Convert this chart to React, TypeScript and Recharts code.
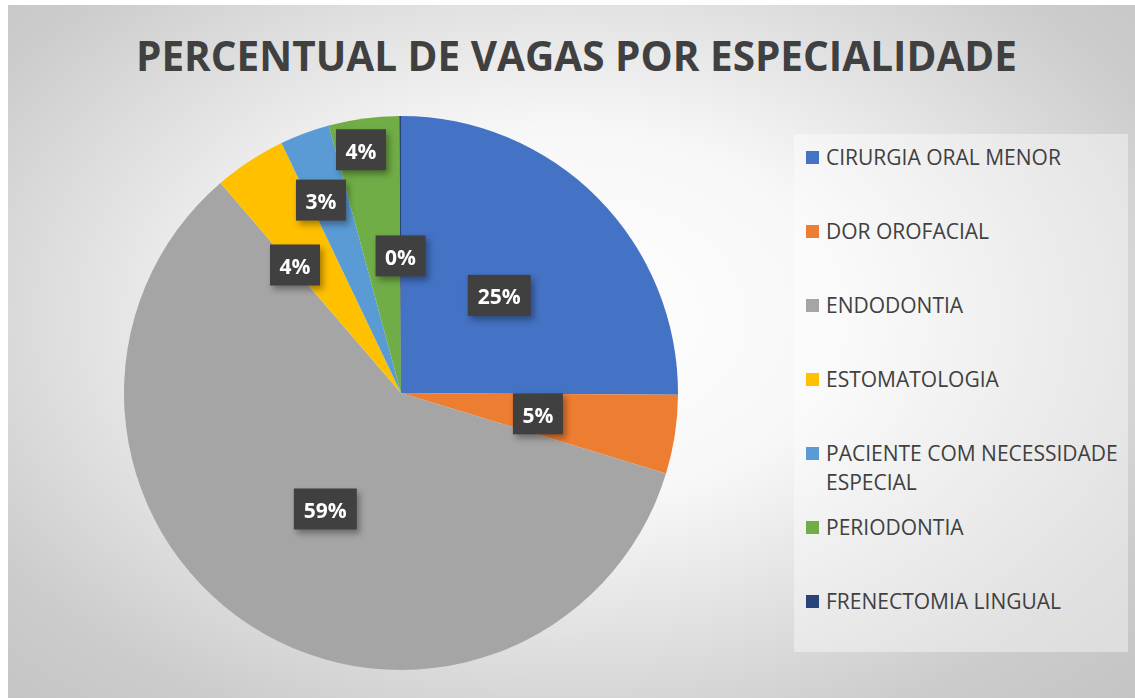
import { PieChart, Pie, Cell, Legend } from "recharts";

const categories = [
  "CIRURGIA ORAL MENOR",
  "DOR OROFACIAL",
  "ENDODONTIA",
  "ESTOMATOLOGIA",
  "PACIENTE COM NECESSIDADE ESPECIAL",
  "PERIODONTIA",
  "FRENECTOMIA LINGUAL",
];
const shares = [25.1, 4.6, 59.0, 4.2, 2.9, 4.1, 0.1];
const colors = ["#4472C4", "#ED7D31", "#A5A5A5", "#FFC000", "#5B9BD5", "#70AD47", "#264478"];

// Excel "best fit" label placement: radius fraction and clockwise angle nudge (deg)
const labelRadius = [0.5, 0.5, 0.5, 0.6, 0.754, 0.89, 0.495];
const labelNudge = [0, 0, 0, -6.5, -2.2, -1.6, 0];

const data = categories.map((name, i) => ({ name, value: shares[i] }));

const RAD = Math.PI / 180;
const FONT = "'Open Sans', 'Noto Sans', sans-serif";

const renderLabel = (props: any) => {
  const { cx, cy, midAngle, outerRadius, percent, index } = props;
  const r = outerRadius * labelRadius[index];
  const a = midAngle - labelNudge[index];
  const x = cx + r * Math.cos(-a * RAD);
  const y = cy + r * Math.sin(-a * RAD);
  const text = `${Math.round(percent * 100)}%`;
  const w = text.length === 3 ? 63 : 50;
  return (
    <g style={{ filter: "drop-shadow(3px 4px 3px rgba(0,0,0,0.35))" }}>
      <rect x={x - w / 2} y={y - 20.5} width={w} height={41} fill="#404040" />
      <text
        x={x}
        y={y + 1}
        textAnchor="middle"
        dominantBaseline="central"
        fill="#ffffff"
        fontFamily={FONT}
        fontWeight={700}
        fontSize={21}
      >
        {text}
      </text>
    </g>
  );
};

const renderLegend = () => (
  <div
    style={{
      position: "relative",
      width: 334,
      height: 518,
      background: "rgba(255,255,255,0.4)",
      fontFamily: FONT,
      fontSize: 21,
      color: "#404040",
    }}
  >
    {categories.map((name, i) => (
      <div
        key={name}
        style={{
          position: "absolute",
          left: 12,
          top: 23 + i * 74 - 14.5,
          display: "flex",
          alignItems: "flex-start",
          lineHeight: "29px",
        }}
      >
        <span
          style={{
            display: "inline-block",
            width: 13,
            height: 13,
            marginTop: 8,
            marginRight: 7,
            background: colors[i],
          }}
        />
        <span style={{ width: 300, whiteSpace: "normal" }}>{name}</span>
      </div>
    ))}
  </div>
);

export default function App() {
  return (
    <div
      style={{
        position: "absolute",
        left: 8,
        top: 5,
        width: 1127,
        height: 693,
        overflow: "hidden",
        background:
          "radial-gradient(ellipse farthest-corner at 49% 45%, #ffffff 0%, #f7f7f7 35%, #e2e2e2 58%, #cccccc 82%, #c4c4c4 100%)",
      }}
    >
      <svg
        width={1127}
        height={90}
        style={{ position: "absolute", left: 0, top: 0 }}
      >
        <text
          x={568.5}
          y={66}
          textAnchor="middle"
          textLength={881}
          lengthAdjust="spacingAndGlyphs"
          fill="#404040"
          fontFamily={FONT}
          fontWeight={700}
          fontSize={42}
        >
          PERCENTUAL DE VAGAS POR ESPECIALIDADE
        </text>
      </svg>
      <PieChart width={1127} height={693} margin={{ top: 0, right: 0, bottom: 0, left: 0 }}>
        <Pie
          data={data}
          dataKey="value"
          nameKey="name"
          cx={393}
          cy={388}
          outerRadius={277}
          startAngle={90}
          endAngle={-270}
          stroke="none"
          label={renderLabel}
          labelLine={false}
          isAnimationActive={false}
        >
          {data.map((d, i) => (
            <Cell key={d.name} fill={colors[i]} />
          ))}
        </Pie>
        <Legend
          layout="vertical"
          align="right"
          verticalAlign="middle"
          content={renderLegend}
          wrapperStyle={{ left: 786, top: 129, width: 334, height: 518 }}
        />
      </PieChart>
    </div>
  );
}
